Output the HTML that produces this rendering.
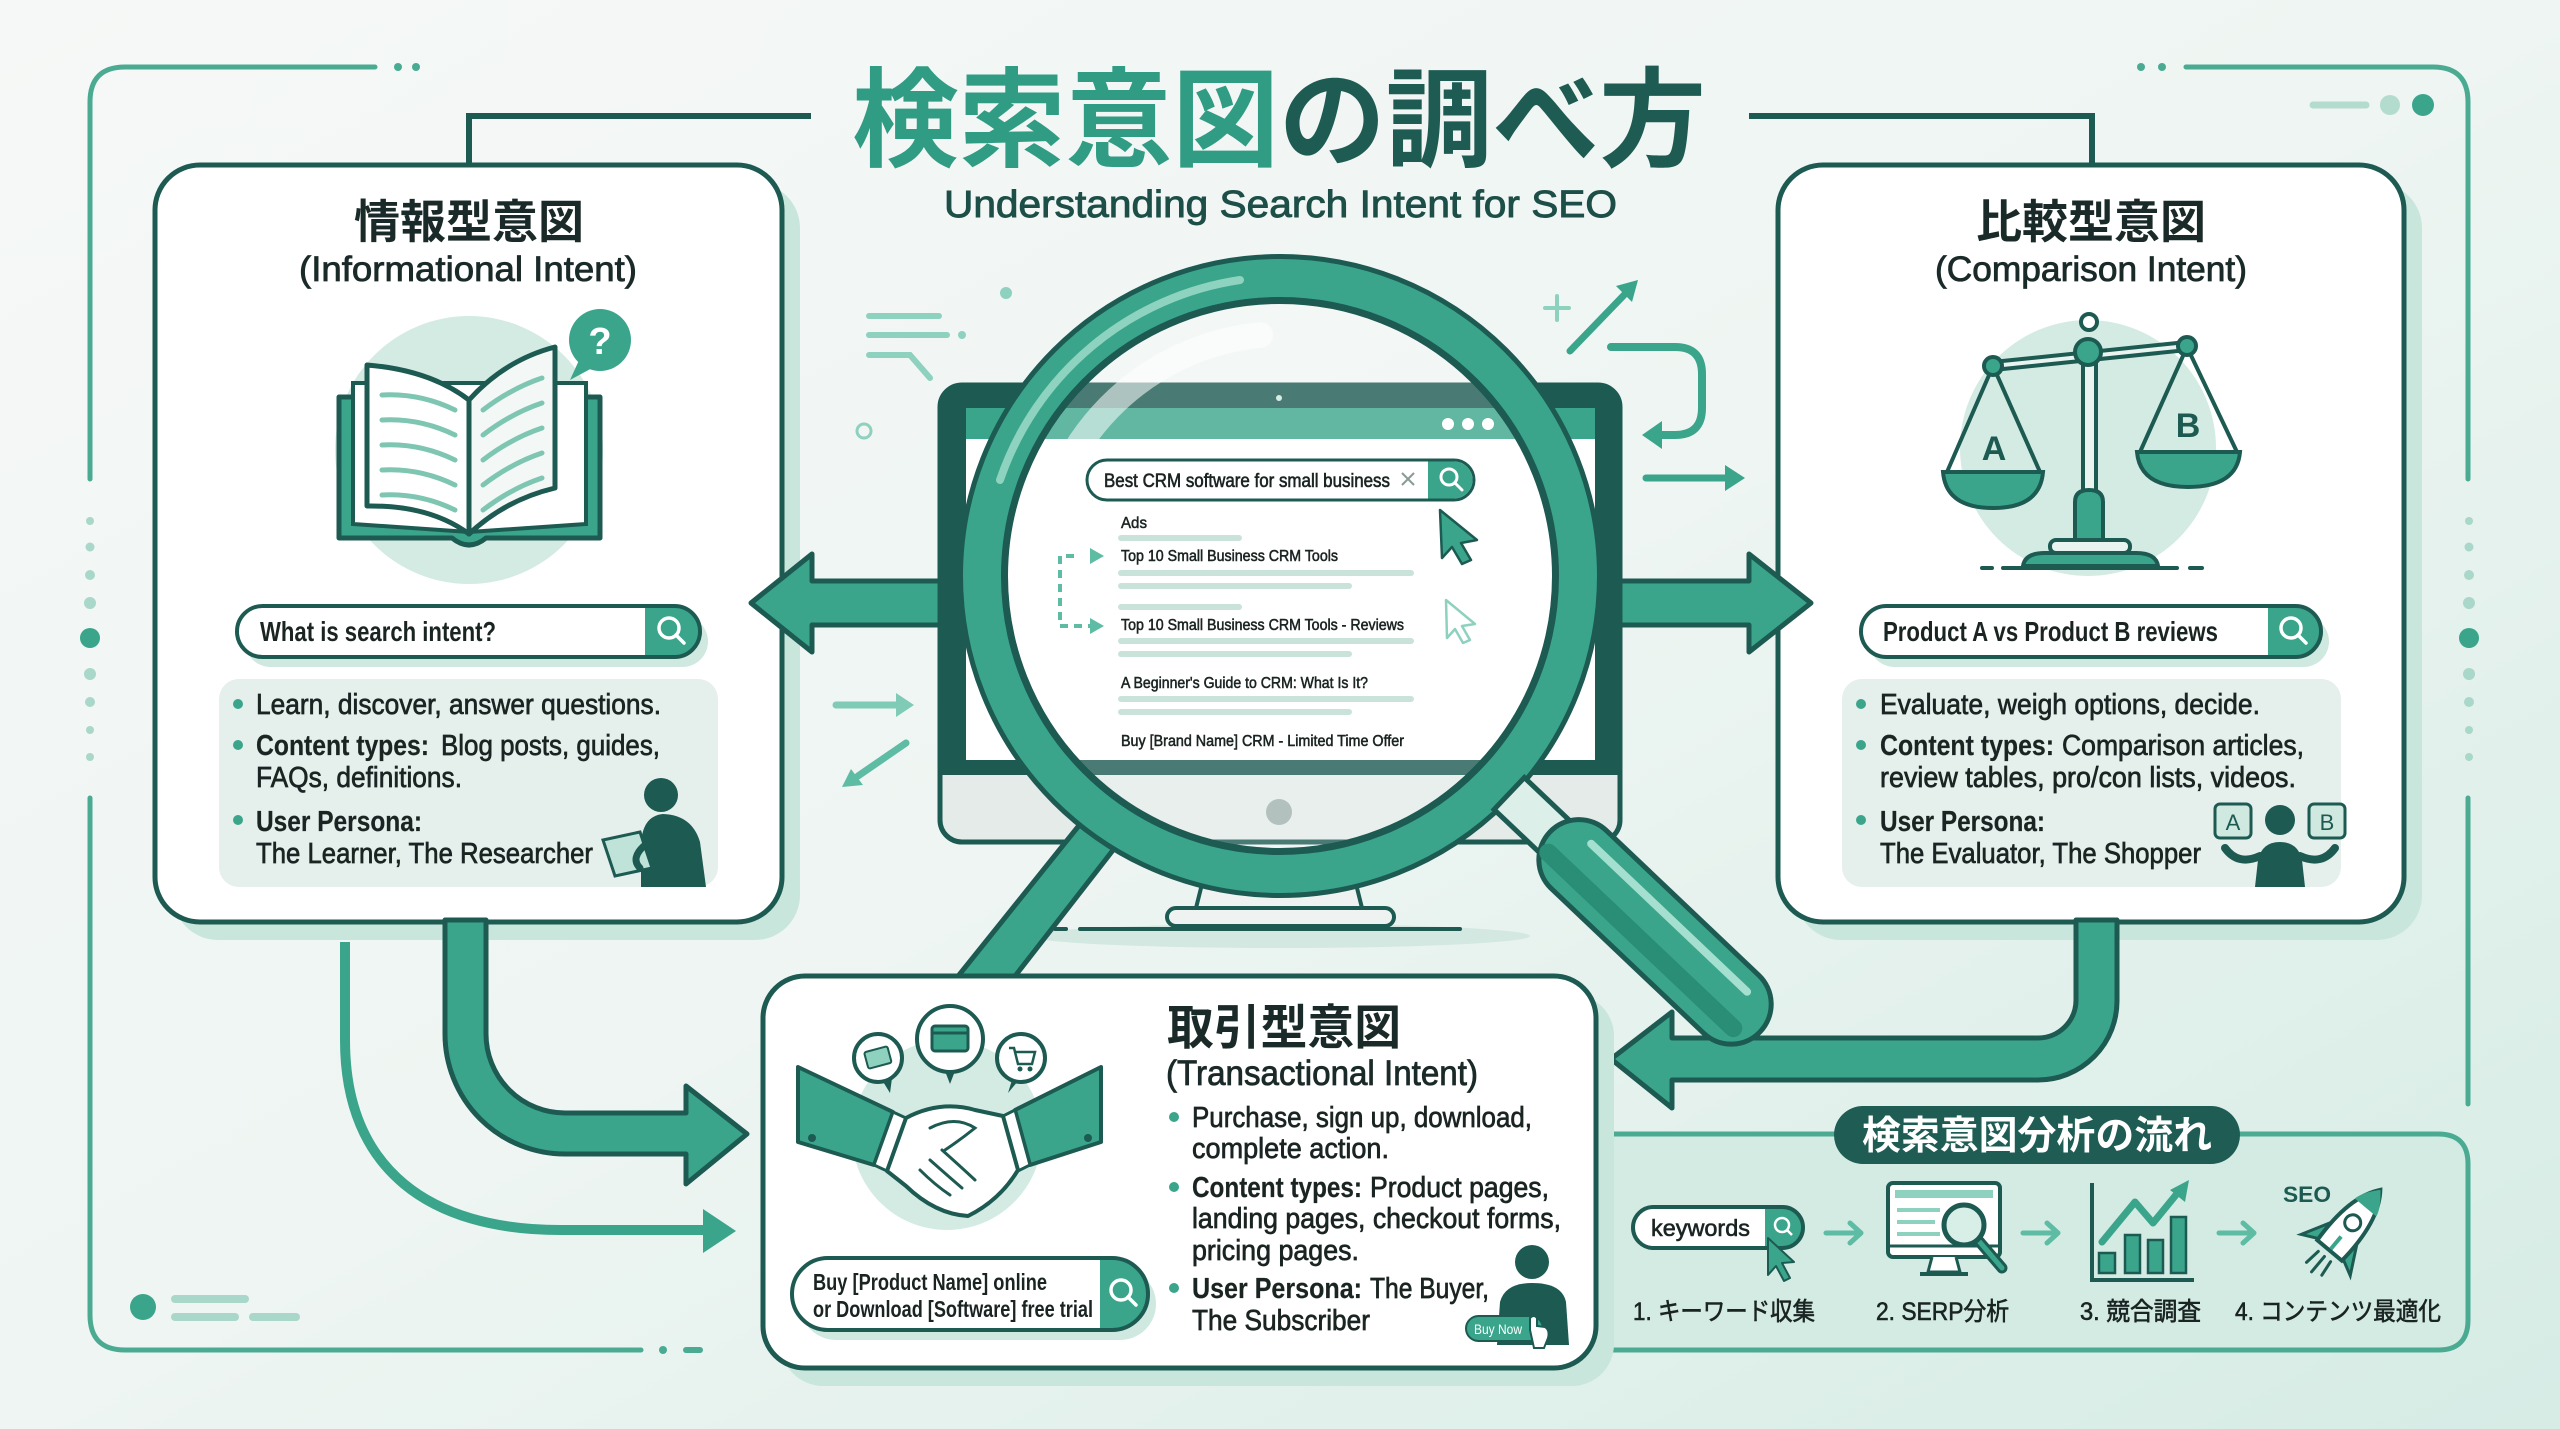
<!DOCTYPE html>
<html><head><meta charset="utf-8">
<style>
html,body{margin:0;padding:0;width:2560px;height:1429px;overflow:hidden;background:#eef4f2}
svg{display:block}
text{font-family:"Liberation Sans","Noto Sans CJK JP",sans-serif}
</style></head><body>
<svg width="2560" height="1429" viewBox="0 0 2560 1429" xmlns="http://www.w3.org/2000/svg">
<defs>
<linearGradient id="bg" x1="0" y1="0" x2="1" y2="1">
<stop offset="0" stop-color="#f6f8f7"/>
<stop offset="0.5" stop-color="#eef5f2"/>
<stop offset="1" stop-color="#d6ece5"/>
</linearGradient>
<clipPath id="lens"><circle cx="1280" cy="576" r="274"/></clipPath>
</defs>
<rect width="2560" height="1429" fill="url(#bg)"/>

<!-- outer frame -->
<g fill="none" stroke="#4aab92" stroke-width="5" stroke-linecap="round">
<path d="M375,67 H125 Q90,67 90,102 V479"/>
<path d="M90,798 V1315 Q90,1350 125,1350 H641"/>
<path d="M2186,67 H2433 Q2468,67 2468,102 V479"/>
<path d="M2468,798 V1104"/>
<line x1="686" y1="1350" x2="700" y2="1350" stroke-width="6"/>
</g>
<g fill="#4aab92">
<circle cx="398" cy="67" r="4"/><circle cx="416" cy="67" r="4"/>
<circle cx="2141" cy="67" r="4"/><circle cx="2162" cy="67" r="4"/>
<circle cx="663" cy="1350" r="4"/>
</g>
<g fill="#a9d7ca">
<circle cx="90" cy="521" r="4"/><circle cx="90" cy="547" r="4.5"/><circle cx="90" cy="575" r="5"/><circle cx="90" cy="603" r="6"/><circle cx="90" cy="674" r="6"/><circle cx="90" cy="702" r="5"/><circle cx="90" cy="730" r="4"/><circle cx="90" cy="757" r="4"/>
<circle cx="2469" cy="521" r="4"/><circle cx="2469" cy="547" r="4.5"/><circle cx="2469" cy="575" r="5"/><circle cx="2469" cy="603" r="6"/><circle cx="2469" cy="674" r="6"/><circle cx="2469" cy="702" r="5"/><circle cx="2469" cy="730" r="4"/><circle cx="2469" cy="757" r="4"/>
</g>
<circle cx="90" cy="638" r="10" fill="#3aa58b"/>
<circle cx="2469" cy="638" r="10" fill="#3aa58b"/>
<line x1="2313" y1="105" x2="2366" y2="105" stroke="#b3dccf" stroke-width="7" stroke-linecap="round"/>
<circle cx="2390" cy="105" r="10" fill="#b3dccf"/>
<circle cx="2423" cy="105" r="11" fill="#3aa58b"/>
<circle cx="143" cy="1307" r="13" fill="#3aa58b"/>
<g stroke="#a9d7ca" stroke-width="8" stroke-linecap="round">
<line x1="175" y1="1299" x2="245" y2="1299"/><line x1="175" y1="1317" x2="235" y2="1317"/><line x1="253" y1="1317" x2="296" y2="1317"/>
</g>

<!-- title lines -->
<g fill="none" stroke="#1c5a52" stroke-width="6">
<path d="M811,116 H469 V167"/>
<path d="M1749,116 H2092 V167"/>
</g>

<!-- title -->
<text x="852" y="158" font-size="108" font-weight="bold" fill="#2f9c83" textLength="427" lengthAdjust="spacingAndGlyphs">検索意図</text>
<text x="1279" y="158" font-size="108" font-weight="bold" fill="#1e5c53" textLength="427" lengthAdjust="spacingAndGlyphs">の調べ方</text>
<text x="944" y="217" font-size="38" fill="#1d4f48" stroke="#1d4f48" stroke-width="0.9" textLength="673" lengthAdjust="spacingAndGlyphs">Understanding Search Intent for SEO</text>

<!-- left & right boxes -->
<rect x="173" y="183" width="627" height="757" rx="45" fill="#c9e6dc"/>
<rect x="155" y="165" width="627" height="757" rx="45" fill="#fff" stroke="#1c5a52" stroke-width="5"/>
<rect x="1796" y="183" width="626" height="757" rx="45" fill="#c9e6dc"/>
<rect x="1778" y="165" width="626" height="757" rx="45" fill="#fff" stroke="#1c5a52" stroke-width="5"/>

<!-- flow box -->
<path d="M1580,1134 H2438 Q2468,1134 2468,1164 V1320 Q2468,1350 2438,1350 H1580 Z" fill="#d3ebe3" stroke="#4aab92" stroke-width="5"/>

<!-- decorations near lens -->
<g stroke="#8fd1bf" stroke-width="6" stroke-linecap="round" fill="none">
<line x1="869" y1="316" x2="939" y2="316"/>
<line x1="869" y1="335" x2="947" y2="335"/>
<path d="M869,355 H910 L930,378"/>
</g>
<circle cx="962" cy="335" r="4" fill="#8fd1bf"/>
<circle cx="1006" cy="293" r="6" fill="#8fd1bf"/>
<circle cx="864" cy="431" r="7" fill="none" stroke="#8fd1bf" stroke-width="3"/>
<g stroke="#8fd1bf" stroke-width="4" stroke-linecap="round"><line x1="1545" y1="308" x2="1569" y2="308"/><line x1="1557" y1="296" x2="1557" y2="320"/></g>
<line x1="1570" y1="351" x2="1626" y2="293" stroke="#3aa58b" stroke-width="7" stroke-linecap="round"/>
<polygon points="1638,280 1632,302 1616,286" fill="#3aa58b"/>
<path d="M1611,347 H1675 Q1702,347 1702,374 V408 Q1702,435 1675,435 H1660" fill="none" stroke="#3aa58b" stroke-width="8" stroke-linecap="round"/>
<polygon points="1642,435 1662,421 1662,449" fill="#3aa58b"/>
<line x1="1646" y1="478" x2="1728" y2="478" stroke="#3aa58b" stroke-width="7" stroke-linecap="round"/>
<polygon points="1725,465 1745,478 1725,491" fill="#3aa58b"/>
<line x1="836" y1="705" x2="900" y2="705" stroke="#7fcbb6" stroke-width="7" stroke-linecap="round"/>
<polygon points="896,693 914,705 896,717" fill="#7fcbb6"/>
<line x1="906" y1="743" x2="858" y2="776" stroke="#5dbca3" stroke-width="7" stroke-linecap="round"/>
<polygon points="842,787 851,769 863,785" fill="#5dbca3"/>

<!-- L arrows -->
<path d="M445,920 L445,1034 A120,120 0 0 0 565,1154 L686,1154 L686,1184 L747,1134 L686,1086 L686,1113 L565,1113 A79,79 0 0 1 486,1034 L486,920 Z" fill="#3aa58b" stroke="#1c5a52" stroke-width="5" stroke-linejoin="round"/>
<path d="M345,942 L345,1040 C345,1170 430,1230 560,1230 L712,1230" fill="none" stroke="#3aa58b" stroke-width="10"/>
<polygon points="703,1209 736,1231 703,1253" fill="#3aa58b"/>
<path d="M2117,920 L2117,1000 A79,79 0 0 1 2038,1080 L1672,1080 L1672,1108 L1611,1059 L1672,1012 L1672,1038 L2038,1038 A38,38 0 0 0 2076,1000 L2076,920 Z" fill="#3aa58b" stroke="#1c5a52" stroke-width="5" stroke-linejoin="round"/>

<!-- big horizontal arrows -->
<polygon points="945,581 812,581 812,554 751,603 812,652 812,625 945,625" fill="#3aa58b" stroke="#1c5a52" stroke-width="5" stroke-linejoin="round"/>
<polygon points="1615,581 1749,581 1749,554 1811,603 1749,652 1749,625 1615,625" fill="#3aa58b" stroke="#1c5a52" stroke-width="5" stroke-linejoin="round"/>

<!-- monitor -->
<ellipse cx="1280" cy="936" rx="250" ry="12" fill="#d3e8e1"/>
<path d="M1213,840 L1196,908 L1362,908 L1345,840 Z" fill="#eef3f1" stroke="#1c5a52" stroke-width="4"/>
<rect x="1167" y="908" width="227" height="18" rx="9" fill="#eef3f1" stroke="#1c5a52" stroke-width="4"/>
<line x1="1080" y1="929" x2="1460" y2="929" stroke="#1c5a52" stroke-width="4" stroke-linecap="round"/>
<line x1="1055" y1="929" x2="1066" y2="929" stroke="#1c5a52" stroke-width="4" stroke-linecap="round"/>
<rect x="940" y="385" width="680" height="457" rx="22" fill="#e4ebe9" stroke="#1c5a52" stroke-width="5"/>
<path d="M940,407 Q940,385 962,385 H1598 Q1620,385 1620,407 V775 H940 Z" fill="#1c5a52"/>
<rect x="966" y="408" width="629" height="352" fill="#fff"/>
<rect x="966" y="408" width="629" height="31" fill="#3aa58b"/>
<g fill="#fff"><circle cx="1448" cy="424" r="6"/><circle cx="1468" cy="424" r="6"/><circle cx="1488" cy="424" r="6"/></g>
<circle cx="1279" cy="398" r="3" fill="#cfe8e0"/>
<circle cx="1279" cy="812" r="13" fill="#9fb2ae"/>

<!-- magnifier stand band -->
<polygon points="955,980 1012,980 1138,818 1085,818" fill="#3aa58b" stroke="#1c5a52" stroke-width="5" stroke-linejoin="round"/>

<!-- transactional box -->
<rect x="781" y="994" width="833" height="392" rx="42" fill="#c9e6dc"/>
<rect x="763" y="976" width="833" height="392" rx="42" fill="#fff" stroke="#1c5a52" stroke-width="5"/>

<!-- lens content -->
<g clip-path="url(#lens)">
<circle cx="1280" cy="576" r="274" fill="#fff" fill-opacity="0.2"/>
<path d="M1040,560 A245,245 0 0 1 1260,335" fill="none" stroke="#fff" stroke-opacity="0.55" stroke-width="26" stroke-linecap="round"/>
<rect x="1087" y="460" width="387" height="40" rx="20" fill="#fff" stroke="#1c5a52" stroke-width="3"/>
<path d="M1428,461.5 H1454 A18.5,18.5 0 0 1 1454,498.5 H1428 Z" fill="#3aa58b"/>
<circle cx="1449" cy="477" r="8" fill="none" stroke="#fff" stroke-width="3"/>
<line x1="1455" y1="483" x2="1462" y2="490" stroke="#fff" stroke-width="3" stroke-linecap="round"/>
<text x="1104" y="487" font-size="19" fill="#1a2422" stroke="#1a2422" stroke-width="0.6" textLength="286" lengthAdjust="spacingAndGlyphs">Best CRM software for small business</text>
<g stroke="#8a9a97" stroke-width="2"><line x1="1402" y1="473" x2="1414" y2="485"/><line x1="1414" y1="473" x2="1402" y2="485"/></g>
<text x="1121" y="528" font-size="16" fill="#1a2422" stroke="#1a2422" stroke-width="0.5" textLength="26" lengthAdjust="spacingAndGlyphs">Ads</text>
<g stroke="#c9e3db" stroke-width="6" stroke-linecap="round">
<line x1="1121" y1="538" x2="1239" y2="538"/>
<line x1="1121" y1="573" x2="1411" y2="573"/><line x1="1121" y1="586" x2="1349" y2="586"/>
<line x1="1121" y1="607" x2="1239" y2="607"/>
<line x1="1121" y1="641" x2="1411" y2="641"/><line x1="1121" y1="654" x2="1349" y2="654"/>
<line x1="1121" y1="699" x2="1411" y2="699"/><line x1="1121" y1="712" x2="1349" y2="712"/>
</g>
<g font-size="16" fill="#1a2422" stroke="#1a2422" stroke-width="0.55">
<text x="1121" y="561" textLength="217" lengthAdjust="spacingAndGlyphs">Top 10 Small Business CRM Tools</text>
<text x="1121" y="630" textLength="283" lengthAdjust="spacingAndGlyphs">Top 10 Small Business CRM Tools - Reviews</text>
<text x="1121" y="688" textLength="247" lengthAdjust="spacingAndGlyphs">A Beginner's Guide to CRM: What Is It?</text>
<text x="1121" y="746" textLength="283" lengthAdjust="spacingAndGlyphs">Buy [Brand Name] CRM - Limited Time Offer</text>
</g>
<path d="M1074,556 H1060 V626 H1090" fill="none" stroke="#5dbca3" stroke-width="4" stroke-dasharray="8 6"/>
<polygon points="1090,548 1104,556 1090,564" fill="#5dbca3"/>
<polygon points="1090,618 1104,626 1090,634" fill="#5dbca3"/>
<polygon points="1440,510 1477,540 1461,543 1471,560 1462,564 1452,547 1442,558" fill="#3aa58b" stroke="#1c5a52" stroke-width="2.5" stroke-linejoin="round"/>
<polygon points="1446,600 1475,624 1462,626 1470,640 1463,643 1455,629 1447,638" fill="#fff" stroke="#8fd1bf" stroke-width="2.5" stroke-linejoin="round"/>
</g>

<!-- ring -->
<circle cx="1280" cy="576" r="297" fill="none" stroke="#1c5a52" stroke-width="50"/>
<circle cx="1280" cy="576" r="298" fill="none" stroke="#3aa58b" stroke-width="38"/>
<path d="M1000,480 A300,300 0 0 1 1240,280" fill="none" stroke="#8ed3bf" stroke-width="8" stroke-linecap="round"/>
<!-- handle -->
<g transform="translate(1280 576) rotate(43.5)">
<rect x="316" y="-22" width="62" height="44" fill="#dcefe8" stroke="#1c5a52" stroke-width="5"/>
<rect x="372" y="-40" width="290" height="80" rx="40" fill="#3aa58b" stroke="#1c5a52" stroke-width="5"/>
<path d="M385,16 H640" stroke="#2a8d76" stroke-width="18" stroke-linecap="round"/>
<line x1="410" y1="-20" x2="625" y2="-20" stroke="#a5dfcf" stroke-width="8" stroke-linecap="round"/>
</g>

<!-- LEFT BOX content -->
<text x="469" y="238" font-size="46" font-weight="bold" fill="#1a2a28" text-anchor="middle">情報型意図</text>
<text x="299" y="281" font-size="35" fill="#1a2a28" stroke="#1a2a28" stroke-width="0.8" textLength="338" lengthAdjust="spacingAndGlyphs">(Informational Intent)</text>
<circle cx="469" cy="450" r="134" fill="#d3ebe3"/>
<path d="M339,397 L339,538 L452,538 Q469,552 486,538 L600,538 L600,397 Z" fill="#3aa58b" stroke="#1c5a52" stroke-width="5" stroke-linejoin="round"/>
<path d="M353,383 L353,524 L469,532 L586,524 L586,383 Z" fill="#fff" stroke="#1c5a52" stroke-width="4"/>
<path d="M367,365 Q430,370 469,400 L469,534 Q430,505 367,506 Z" fill="#fff" stroke="#1c5a52" stroke-width="5" stroke-linejoin="round"/>
<path d="M469,400 Q505,360 555,347 L555,488 Q505,500 469,534 Z" fill="#f3f8f6" stroke="#1c5a52" stroke-width="5" stroke-linejoin="round"/>
<g fill="none" stroke="#7fc6b2" stroke-width="5" stroke-linecap="round">
<path d="M382,395 Q420,393 455,410"/><path d="M382,420 Q420,418 455,435"/><path d="M382,445 Q420,443 455,460"/><path d="M382,470 Q420,468 455,485"/><path d="M382,495 Q420,493 455,510"/>
<path d="M483,410 Q512,388 542,378"/><path d="M483,435 Q512,413 542,403"/><path d="M483,460 Q512,438 542,428"/><path d="M483,485 Q512,463 542,453"/><path d="M483,510 Q512,488 542,478"/>
</g>
<circle cx="600" cy="340" r="31" fill="#3aa58b"/>
<polygon points="580,358 570,380 594,367" fill="#3aa58b"/>
<text x="600" y="354" font-size="38" font-weight="bold" fill="#fff" text-anchor="middle">?</text>

<rect x="245" y="616" width="463" height="51" rx="25.5" fill="#cfe8e0"/>
<rect x="237" y="606" width="463" height="51" rx="25.5" fill="#fff"/>
<path d="M645,606 H674.5 A25.5,25.5 0 0 1 674.5,657 H645 Z" fill="#3aa58b"/>
<rect x="237" y="606" width="463" height="51" rx="25.5" fill="none" stroke="#1c5a52" stroke-width="4"/>
<circle cx="669" cy="628" r="10" fill="none" stroke="#fff" stroke-width="3.5"/>
<line x1="676" y1="635" x2="684" y2="643" stroke="#fff" stroke-width="3.5" stroke-linecap="round"/>
<text x="260" y="641" font-size="28" font-weight="bold" fill="#1a2422" textLength="236" lengthAdjust="spacingAndGlyphs">What is search intent?</text>

<rect x="219" y="679" width="499" height="208" rx="20" fill="#e5efec"/>
<g fill="#3aa58b"><circle cx="238" cy="704" r="5"/><circle cx="238" cy="745" r="5"/><circle cx="238" cy="820" r="5"/></g>
<g font-size="29" fill="#1a2422" stroke="#1a2422" stroke-width="0.7">
<text x="256" y="714" textLength="405" lengthAdjust="spacingAndGlyphs">Learn, discover, answer questions.</text>
<text x="256" y="755" font-weight="bold" stroke-width="0.2" textLength="173" lengthAdjust="spacingAndGlyphs">Content types:</text>
<text x="441" y="755" textLength="219" lengthAdjust="spacingAndGlyphs">Blog posts, guides,</text>
<text x="256" y="787" textLength="206" lengthAdjust="spacingAndGlyphs">FAQs, definitions.</text>
<text x="256" y="831" font-weight="bold" stroke-width="0.2" textLength="166" lengthAdjust="spacingAndGlyphs">User Persona:</text>
<text x="256" y="863" textLength="337" lengthAdjust="spacingAndGlyphs">The Learner, The Researcher</text>
</g>
<circle cx="661" cy="795" r="17" fill="#1c5a52"/>
<path d="M641,887 L641,845 Q642,816 663,814 Q692,815 700,842 L706,887 Z" fill="#1c5a52"/>
<polygon points="603,840 640,832 652,868 615,876" fill="#bfe3d8" stroke="#1c5a52" stroke-width="3"/>
<path d="M645,845 Q630,858 640,868" fill="none" stroke="#1c5a52" stroke-width="7" stroke-linecap="round"/>

<!-- RIGHT BOX content -->
<text x="2091" y="238" font-size="46" font-weight="bold" fill="#1a2a28" text-anchor="middle">比較型意図</text>
<text x="1935" y="281" font-size="35" fill="#1a2a28" stroke="#1a2a28" stroke-width="0.8" textLength="312" lengthAdjust="spacingAndGlyphs">(Comparison Intent)</text>
<circle cx="2088" cy="448" r="128" fill="#d3ebe3"/>
<g stroke="#1c5a52" stroke-width="4" stroke-linecap="round">
<line x1="1982" y1="568" x2="1992" y2="568"/><line x1="2003" y1="568" x2="2177" y2="568"/><line x1="2190" y1="568" x2="2202" y2="568"/>
</g>
<path d="M2023,566 Q2025,553 2045,553 L2136,553 Q2156,553 2158,566 Z" fill="#3aa58b" stroke="#1c5a52" stroke-width="4"/>
<rect x="2050" y="540" width="80" height="13" rx="6" fill="#e9f4f0" stroke="#1c5a52" stroke-width="4"/>
<rect x="2083" y="355" width="13" height="140" fill="#e9f4f0" stroke="#1c5a52" stroke-width="4"/>
<path d="M2075,540 L2075,502 Q2075,490 2089,490 Q2103,490 2103,502 L2103,540 Z" fill="#3aa58b" stroke="#1c5a52" stroke-width="4"/>
<line x1="1993" y1="366" x2="2187" y2="346" stroke="#1c5a52" stroke-width="12"/>
<line x1="1993" y1="366" x2="2187" y2="346" stroke="#e9f4f0" stroke-width="4"/>
<g fill="none" stroke="#1c5a52" stroke-width="4">
<line x1="1993" y1="366" x2="1947" y2="472"/><line x1="1993" y1="366" x2="2040" y2="472"/>
<line x1="2187" y1="347" x2="2140" y2="452"/><line x1="2187" y1="347" x2="2237" y2="452"/>
</g>
<circle cx="2089" cy="322" r="8" fill="#fff" stroke="#1c5a52" stroke-width="4"/>
<circle cx="2088" cy="352" r="13" fill="#3aa58b" stroke="#1c5a52" stroke-width="4"/>
<circle cx="1993" cy="366" r="9" fill="#3aa58b" stroke="#1c5a52" stroke-width="4"/>
<circle cx="2187" cy="346" r="9" fill="#3aa58b" stroke="#1c5a52" stroke-width="4"/>
<path d="M1943,472 L2043,472 Q2040,508 1993,508 Q1946,508 1943,472 Z" fill="#3aa58b" stroke="#1c5a52" stroke-width="4"/>
<path d="M2137,452 L2240,452 Q2237,487 2188,487 Q2140,487 2137,452 Z" fill="#3aa58b" stroke="#1c5a52" stroke-width="4"/>
<text x="1994" y="460" font-size="34" font-weight="bold" fill="#1c5a52" text-anchor="middle">A</text>
<text x="2188" y="437" font-size="34" font-weight="bold" fill="#1c5a52" text-anchor="middle">B</text>

<rect x="1869" y="616" width="460" height="51" rx="25.5" fill="#cfe8e0"/>
<rect x="1861" y="606" width="460" height="51" rx="25.5" fill="#fff"/>
<path d="M2268,606 H2295.5 A25.5,25.5 0 0 1 2295.5,657 H2268 Z" fill="#3aa58b"/>
<rect x="1861" y="606" width="460" height="51" rx="25.5" fill="none" stroke="#1c5a52" stroke-width="4"/>
<circle cx="2291" cy="628" r="10" fill="none" stroke="#fff" stroke-width="3.5"/>
<line x1="2298" y1="635" x2="2306" y2="643" stroke="#fff" stroke-width="3.5" stroke-linecap="round"/>
<text x="1883" y="641" font-size="28" font-weight="bold" fill="#1a2422" textLength="335" lengthAdjust="spacingAndGlyphs">Product A vs Product B reviews</text>

<rect x="1842" y="679" width="499" height="208" rx="20" fill="#e5efec"/>
<g fill="#3aa58b"><circle cx="1861" cy="704" r="5"/><circle cx="1861" cy="745" r="5"/><circle cx="1861" cy="820" r="5"/></g>
<g font-size="29" fill="#1a2422" stroke="#1a2422" stroke-width="0.7">
<text x="1880" y="714" textLength="380" lengthAdjust="spacingAndGlyphs">Evaluate, weigh options, decide.</text>
<text x="1880" y="755" font-weight="bold" stroke-width="0.2" textLength="174" lengthAdjust="spacingAndGlyphs">Content types:</text>
<text x="2062" y="755" textLength="242" lengthAdjust="spacingAndGlyphs">Comparison articles,</text>
<text x="1880" y="787" textLength="416" lengthAdjust="spacingAndGlyphs">review tables, pro/con lists, videos.</text>
<text x="1880" y="831" font-weight="bold" stroke-width="0.2" textLength="165" lengthAdjust="spacingAndGlyphs">User Persona:</text>
<text x="1880" y="863" textLength="321" lengthAdjust="spacingAndGlyphs">The Evaluator, The Shopper</text>
</g>
<rect x="2215" y="804" width="36" height="34" rx="5" fill="#cfe8e0" stroke="#1c5a52" stroke-width="3"/>
<text x="2233" y="830" font-size="22" fill="#1c5a52" text-anchor="middle">A</text>
<rect x="2309" y="804" width="36" height="34" rx="5" fill="#cfe8e0" stroke="#1c5a52" stroke-width="3"/>
<text x="2327" y="830" font-size="22" fill="#1c5a52" text-anchor="middle">B</text>
<circle cx="2280" cy="820" r="15" fill="#1c5a52"/>
<path d="M2255,887 L2258,860 Q2262,842 2280,842 Q2298,842 2302,860 L2305,887 Z" fill="#1c5a52"/>
<g fill="none" stroke="#1c5a52" stroke-width="8" stroke-linecap="round">
<path d="M2260,856 Q2238,866 2225,848"/><path d="M2300,856 Q2322,866 2335,848"/>
</g>

<!-- TRANSACTIONAL content -->
<circle cx="947" cy="1135" r="95" fill="#d3ebe3"/>
<polygon points="798,1067 893,1112 874,1165 798,1142" fill="#3aa58b" stroke="#1c5a52" stroke-width="4" stroke-linejoin="round"/>
<polygon points="893,1112 906,1118 887,1171 874,1165" fill="#fff" stroke="#1c5a52" stroke-width="3"/>
<polygon points="1101,1067 1015,1110 1030,1165 1101,1142" fill="#3aa58b" stroke="#1c5a52" stroke-width="4" stroke-linejoin="round"/>
<polygon points="1015,1110 1003,1116 1018,1171 1030,1165" fill="#fff" stroke="#1c5a52" stroke-width="3"/>
<circle cx="812" cy="1138" r="4" fill="#1c5a52"/><circle cx="1088" cy="1138" r="4" fill="#1c5a52"/>
<path d="M906,1118 Q940,1100 975,1110 L1003,1116 L1018,1170 Q1000,1200 968,1216 Q935,1214 906,1186 L887,1171 Z" fill="#fff" stroke="#1c5a52" stroke-width="4" stroke-linejoin="round"/>
<g fill="none" stroke="#1c5a52" stroke-width="3" stroke-linecap="round">
<path d="M930,1128 Q955,1115 975,1128 Q960,1140 945,1150"/>
<path d="M920,1170 Q935,1185 950,1195"/><path d="M930,1160 Q948,1176 962,1188"/><path d="M942,1150 Q960,1166 975,1180"/>
</g>
<circle cx="878" cy="1058" r="24" fill="#fff" stroke="#1c5a52" stroke-width="4"/>
<polygon points="882,1080 890,1093 892,1078" fill="#1c5a52"/>
<rect x="866" y="1049" width="24" height="17" rx="2" fill="#8fd1bf" stroke="#1c5a52" stroke-width="2" transform="rotate(-15 878 1058)"/>
<circle cx="950" cy="1039" r="33" fill="#fff" stroke="#1c5a52" stroke-width="4"/>
<polygon points="945,1071 950,1084 955,1071" fill="#1c5a52"/>
<rect x="932" y="1026" width="36" height="25" rx="3" fill="#3aa58b" stroke="#1c5a52" stroke-width="3"/>
<line x1="932" y1="1033" x2="968" y2="1033" stroke="#1c5a52" stroke-width="3"/>
<circle cx="1021" cy="1058" r="24" fill="#fff" stroke="#1c5a52" stroke-width="4"/>
<polygon points="1012,1080 1008,1093 1018,1081" fill="#1c5a52"/>
<path d="M1009,1048 H1014 L1018,1064 H1032 L1035,1052 H1016" fill="none" stroke="#1c5a52" stroke-width="2.5"/>
<circle cx="1020" cy="1069" r="2.5" fill="#1c5a52"/><circle cx="1030" cy="1069" r="2.5" fill="#1c5a52"/>

<text x="1167" y="1044" font-size="48" font-weight="bold" fill="#1a2a28" textLength="234" lengthAdjust="spacingAndGlyphs">取引型意図</text>
<text x="1166" y="1085" font-size="35" fill="#1a2a28" stroke="#1a2a28" stroke-width="0.8" textLength="312" lengthAdjust="spacingAndGlyphs">(Transactional Intent)</text>
<g fill="#3aa58b"><circle cx="1174" cy="1117" r="5"/><circle cx="1174" cy="1187" r="5"/><circle cx="1174" cy="1288" r="5"/></g>
<g font-size="29" fill="#1a2422" stroke="#1a2422" stroke-width="0.7">
<text x="1192" y="1127" textLength="340" lengthAdjust="spacingAndGlyphs">Purchase, sign up, download,</text>
<text x="1192" y="1158" textLength="197" lengthAdjust="spacingAndGlyphs">complete action.</text>
<text x="1192" y="1197" font-weight="bold" stroke-width="0.2" textLength="170" lengthAdjust="spacingAndGlyphs">Content types:</text>
<text x="1370" y="1197" textLength="179" lengthAdjust="spacingAndGlyphs">Product pages,</text>
<text x="1192" y="1228" textLength="369" lengthAdjust="spacingAndGlyphs">landing pages, checkout forms,</text>
<text x="1192" y="1260" textLength="167" lengthAdjust="spacingAndGlyphs">pricing pages.</text>
<text x="1192" y="1298" font-weight="bold" stroke-width="0.2" textLength="170" lengthAdjust="spacingAndGlyphs">User Persona:</text>
<text x="1370" y="1298" textLength="119" lengthAdjust="spacingAndGlyphs">The Buyer,</text>
<text x="1192" y="1330" textLength="178" lengthAdjust="spacingAndGlyphs">The Subscriber</text>
</g>
<rect x="800" y="1268" width="356" height="72" rx="36" fill="#cfe8e0"/>
<rect x="792" y="1258" width="356" height="72" rx="36" fill="#fff"/>
<path d="M1100,1258 H1112 A36,36 0 0 1 1112,1330 H1100 Z" fill="#3aa58b"/>
<rect x="792" y="1258" width="356" height="72" rx="36" fill="none" stroke="#1c5a52" stroke-width="4"/>
<circle cx="1121" cy="1290" r="10" fill="none" stroke="#fff" stroke-width="3.5"/>
<line x1="1128" y1="1297" x2="1136" y2="1305" stroke="#fff" stroke-width="3.5" stroke-linecap="round"/>
<text x="813" y="1290" font-size="23" font-weight="bold" fill="#1a2422" textLength="234" lengthAdjust="spacingAndGlyphs">Buy [Product Name] online</text>
<text x="813" y="1317" font-size="23" font-weight="bold" fill="#1a2422" textLength="280" lengthAdjust="spacingAndGlyphs">or Download [Software] free trial</text>
<circle cx="1532" cy="1262" r="17" fill="#1c5a52"/>
<path d="M1497,1345 L1500,1302 Q1505,1283 1532,1283 Q1562,1283 1566,1302 L1569,1345 Z" fill="#1c5a52"/>
<rect x="1466" y="1316" width="77" height="25" rx="12.5" fill="#3aa58b" stroke="#1c5a52" stroke-width="2"/>
<text x="1474" y="1334" font-size="14" fill="#fff" textLength="48" lengthAdjust="spacingAndGlyphs">Buy Now</text>
<path d="M1530,1330 L1530,1318 Q1534,1314 1537,1318 L1537,1326 L1545,1327 Q1550,1330 1548,1338 L1544,1348 L1534,1348 Z" fill="#fff" stroke="#1c5a52" stroke-width="2"/>

<!-- FLOW content -->
<rect x="1834" y="1106" width="406" height="58" rx="29" fill="#1e5c54"/>
<text x="2037" y="1149" font-size="39" font-weight="bold" fill="#fff" text-anchor="middle" textLength="350" lengthAdjust="spacingAndGlyphs">検索意図分析の流れ</text>

<rect x="1633" y="1207" width="170" height="41" rx="20.5" fill="#fff"/>
<path d="M1765,1207 H1782.5 A20.5,20.5 0 0 1 1782.5,1248 H1765 Z" fill="#3aa58b"/>
<rect x="1633" y="1207" width="170" height="41" rx="20.5" fill="none" stroke="#1c5a52" stroke-width="4"/>
<circle cx="1782" cy="1225" r="7" fill="none" stroke="#fff" stroke-width="2.5"/>
<line x1="1787" y1="1230" x2="1792" y2="1235" stroke="#fff" stroke-width="2.5"/>
<text x="1651" y="1236" font-size="23" fill="#1a2422" stroke="#1a2422" stroke-width="0.6" textLength="99" lengthAdjust="spacingAndGlyphs">keywords</text>
<polygon points="1768,1238 1768,1275 1776,1266 1784,1281 1790,1278 1782,1263 1794,1262" fill="#3aa58b" stroke="#1c5a52" stroke-width="2" stroke-linejoin="round"/>

<g fill="none" stroke="#5dbca3" stroke-width="5" stroke-linecap="round" stroke-linejoin="round">
<path d="M1826,1233 H1860 M1850,1223 L1861,1233 L1850,1243"/>
<path d="M2023,1233 H2057 M2047,1223 L2058,1233 L2047,1243"/>
<path d="M2219,1233 H2253 M2243,1223 L2254,1233 L2243,1243"/>
</g>

<rect x="1888" y="1183" width="112" height="74" rx="5" fill="#fff" stroke="#1c5a52" stroke-width="4"/>
<rect x="1895" y="1190" width="98" height="8" fill="#8fd1bf"/>
<g stroke="#8fd1bf" stroke-width="4"><line x1="1897" y1="1210" x2="1940" y2="1210"/><line x1="1897" y1="1222" x2="1935" y2="1222"/><line x1="1897" y1="1234" x2="1940" y2="1234"/></g>
<line x1="1888" y1="1246" x2="2000" y2="1246" stroke="#1c5a52" stroke-width="3"/>
<path d="M1932,1257 L1928,1272 H1960 L1956,1257" fill="#fff" stroke="#1c5a52" stroke-width="3"/>
<line x1="1920" y1="1274" x2="1968" y2="1274" stroke="#1c5a52" stroke-width="4"/>
<line x1="1978" y1="1240" x2="2002" y2="1268" stroke="#1c5a52" stroke-width="11" stroke-linecap="round"/>
<line x1="1978" y1="1240" x2="2002" y2="1268" stroke="#3aa58b" stroke-width="5" stroke-linecap="round"/>
<circle cx="1964" cy="1225" r="20" fill="#d8efe8" stroke="#1c5a52" stroke-width="5"/>

<path d="M2092,1183 V1280 H2194" fill="none" stroke="#1c5a52" stroke-width="4"/>
<g fill="#3aa58b" stroke="#1c5a52" stroke-width="2.5">
<rect x="2099" y="1253" width="16" height="20"/><rect x="2125" y="1235" width="15" height="38"/><rect x="2148" y="1240" width="15" height="33"/><rect x="2171" y="1217" width="15" height="56"/>
</g>
<path d="M2102,1242 L2135,1202 L2153,1223 L2180,1190" fill="none" stroke="#3aa58b" stroke-width="7" stroke-linejoin="round" stroke-linecap="round"/>
<polygon points="2189,1180 2185,1202 2170,1190" fill="#3aa58b"/>

<text x="2283" y="1202" font-size="22" font-weight="bold" fill="#1c5a52" textLength="48" lengthAdjust="spacingAndGlyphs">SEO</text>
<g transform="translate(2345 1232) rotate(40)">
<path d="M-16,0 L-32,30 L-16,22 Z" fill="#3aa58b" stroke="#1c5a52" stroke-width="3"/>
<path d="M16,0 L32,30 L16,22 Z" fill="#3aa58b" stroke="#1c5a52" stroke-width="3"/>
<path d="M0,-55 Q20,-30 16,24 L-16,24 Q-20,-30 0,-55 Z" fill="#fff" stroke="#1c5a52" stroke-width="4"/>
<path d="M0,-55 Q12,-42 14,-32 L-14,-32 Q-12,-42 0,-55 Z" fill="#3aa58b"/>
<circle cx="0" cy="-12" r="8" fill="#fff" stroke="#1c5a52" stroke-width="3"/>
<line x1="0" y1="6" x2="0" y2="22" stroke="#3aa58b" stroke-width="4"/>
<g stroke="#1c5a52" stroke-width="3" stroke-linecap="round"><line x1="-8" y1="32" x2="-10" y2="48"/><line x1="0" y1="32" x2="0" y2="52"/><line x1="8" y1="32" x2="10" y2="48"/></g>
</g>

<g font-size="25" fill="#1a2422" stroke="#1a2422" stroke-width="0.6">
<text x="1633" y="1320" textLength="182" lengthAdjust="spacingAndGlyphs">1. キーワード収集</text>
<text x="1876" y="1320" textLength="133" lengthAdjust="spacingAndGlyphs">2. SERP分析</text>
<text x="2080" y="1320" textLength="121" lengthAdjust="spacingAndGlyphs">3. 競合調査</text>
<text x="2235" y="1320" textLength="206" lengthAdjust="spacingAndGlyphs">4. コンテンツ最適化</text>
</g>
</svg>
</body></html>
